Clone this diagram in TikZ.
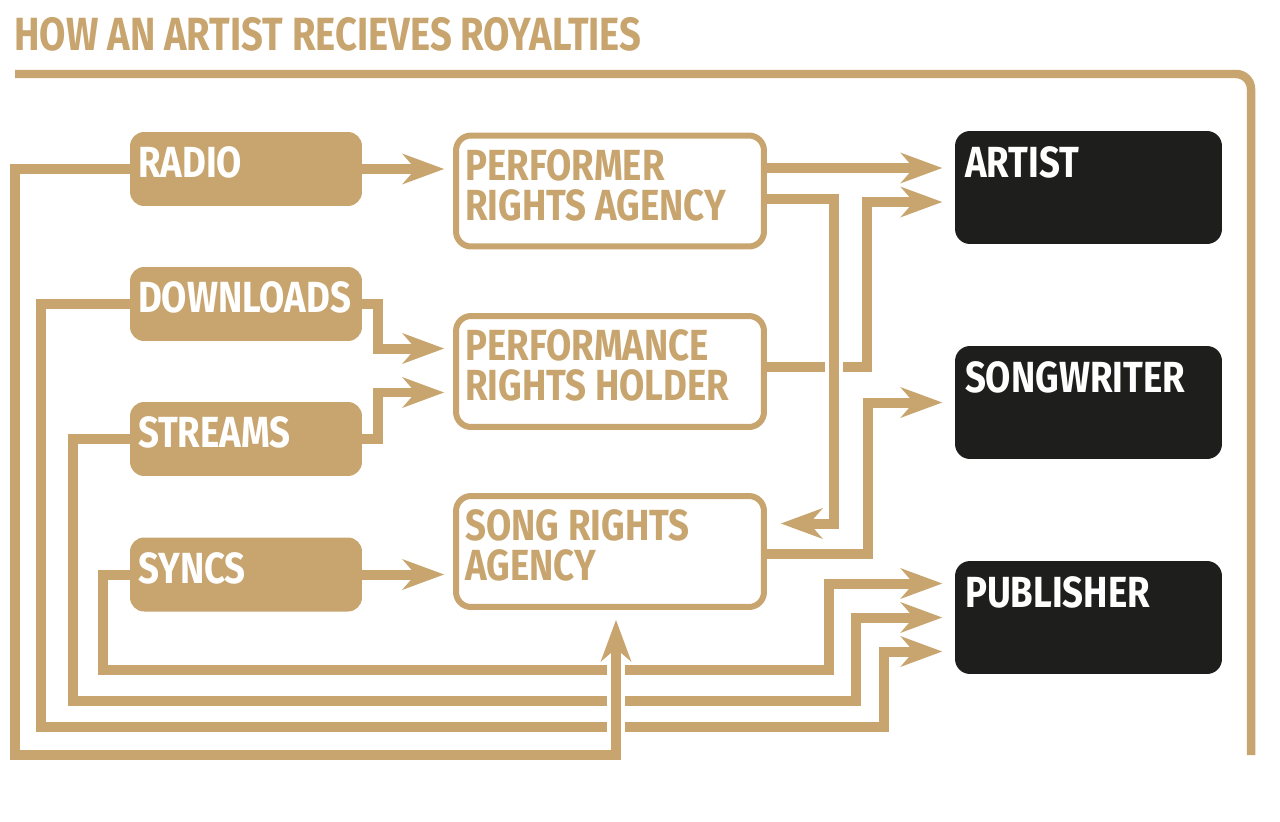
\documentclass[tikz,border=0pt]{standalone}
\usepackage{fontspec}
\newfontfamily\condfont[FakeStretch=0.84]{Fira Sans}
\newfontfamily\titlefont[FakeStretch=0.82]{Fira Sans}
\usetikzlibrary{arrows.meta,backgrounds}
\definecolor{gold}{HTML}{C8A56E}
\definecolor{ink}{HTML}{1E1E1C}
\tikzset{
  source/.style={fill=gold, rounded corners=0.28cm, inner sep=0pt,
    minimum width=4.64cm, minimum height=1.48cm},
  agency/.style={draw=gold, line width=0.12cm, fill=white, rounded corners=0.3cm,
    inner sep=0pt, minimum width=6.16cm, minimum height=2.22cm},
  payee/.style={fill=ink, rounded corners=0.3cm, inner sep=0pt,
    minimum width=5.34cm, minimum height=2.26cm},
  boxtext/.style={anchor=north west, inner sep=0pt, align=left,
    font=\condfont\bfseries\fontsize{24.8}{22.8}\selectfont},
  flow/.style={draw=gold, line width=0.2cm,
    -{Stealth[length=0.84cm,width=0.62cm,inset=0.27cm,line width=0pt]},
    shorten >=0.18cm},
  payflow/.style={flow, shorten >=0.25cm},
  bridge/.style={preaction={draw=white, line width=0.36cm, -}},
}
\begin{document}
\begin{tikzpicture}[x=0.02cm,y=-0.02cm]
\useasboundingbox (0,0) rectangle (1280,821);

% title and frame
\node[anchor=base west, inner sep=0pt, text=gold,
  font=\titlefont\bfseries\fontsize{26.5}{28}\selectfont] (title) at (14,51)
  {HOW AN ARTIST RECIEVES ROYALTIES};
\draw[gold, line width=0.17cm, rounded corners=0.3cm] (15,74) -- (1251,74) -- (1251,755);

% sources
\node[source] (radio) at (246,169) {};
\node[source] (downloads) at (246,304) {};
\node[source] (streams) at (246,439) {};
\node[source] (syncs) at (246,574.5) {};
\node[boxtext, text=white, xshift=0.16cm, yshift=-0.3cm] (radiotxt) at (radio.north west) {RADIO};
\node[boxtext, text=white, xshift=0.16cm, yshift=-0.3cm] (downloadstxt) at (downloads.north west) {DOWNLOADS};
\node[boxtext, text=white, xshift=0.16cm, yshift=-0.3cm] (streamstxt) at (streams.north west) {STREAMS};
\node[boxtext, text=white, xshift=0.16cm, yshift=-0.3cm] (syncstxt) at (syncs.north west) {SYNCS};

% agencies
\node[agency] (pra) at (610,191) {};
\node[agency] (prh) at (610,371.5) {};
\node[agency] (sra) at (610,551.5) {};
\node[boxtext, text=gold, xshift=0.24cm, yshift=-0.33cm] (pratxt) at (pra.north west) {PERFORMER\\RIGHTS AGENCY};
\node[boxtext, text=gold, xshift=0.24cm, yshift=-0.33cm] (prhtxt) at (prh.north west) {PERFORMANCE\\RIGHTS HOLDER};
\node[boxtext, text=gold, xshift=0.24cm, yshift=-0.33cm] (sratxt) at (sra.north west) {SONG RIGHTS\\AGENCY};

% payees
\node[payee] (artist) at (1088.5,187.5) {};
\node[payee] (songwriter) at (1088.5,402.5) {};
\node[payee] (publisher) at (1088.5,617.5) {};
\node[boxtext, text=white, xshift=0.2cm, yshift=-0.32cm] (artisttxt) at (artist.north west) {ARTIST};
\node[boxtext, text=white, xshift=0.2cm, yshift=-0.32cm] (songwritertxt) at (songwriter.north west) {SONGWRITER};
\node[boxtext, text=white, xshift=0.2cm, yshift=-0.32cm] (publishertxt) at (publisher.north west) {PUBLISHER};

\begin{pgfonlayer}{background}
% into the agencies
\draw[flow] (radio.east) -- (pra.west |- radio.east);
\draw[flow] (downloads.east) -- ++(16,0) |- ([yshift=0.46cm]prh.west);
\draw[flow] (streams.east) -- ++(16,0) |- ([yshift=-0.42cm]prh.west);
\draw[flow] (syncs.east) -- (sra.west |- syncs.east);

% agencies to payees
\draw[payflow] ([yshift=0.46cm]pra.east) -- ([yshift=0.46cm]pra.east -| artist.west);
\draw[payflow] ([yshift=0.1cm]prh.east) -- ++(100,0) |- ([yshift=-0.29cm]artist.west);
\draw[flow, bridge, shorten >=0.28cm] ([yshift=-0.16cm]pra.east) -- ++(67,0) |- ([yshift=0.56cm]sra.east);
\draw[payflow] ([yshift=-0.05cm]sra.east) -- ++(101,0) |- (songwriter.west);

% sources straight to the publisher
\draw[payflow] (syncs.west) -- ++(-27,0) -- ++(0,95) -- ++(726,0) |- ([yshift=0.68cm]publisher.west);
\draw[payflow] (streams.west) -- ++(-57,0) -- ++(0,262) -- ++(783,0) |- (publisher.west);
\draw[payflow] (downloads.west) -- ++(-89,0) -- ++(0,423) -- ++(843,0) |- ([yshift=-0.68cm]publisher.west);
\draw[flow, bridge, shorten >=0.2cm] (radio.west) -- ++(-115,0) -- ++(0,586) -| ([xshift=0.12cm]sra.south);
\end{pgfonlayer}
\end{tikzpicture}
\end{document}
